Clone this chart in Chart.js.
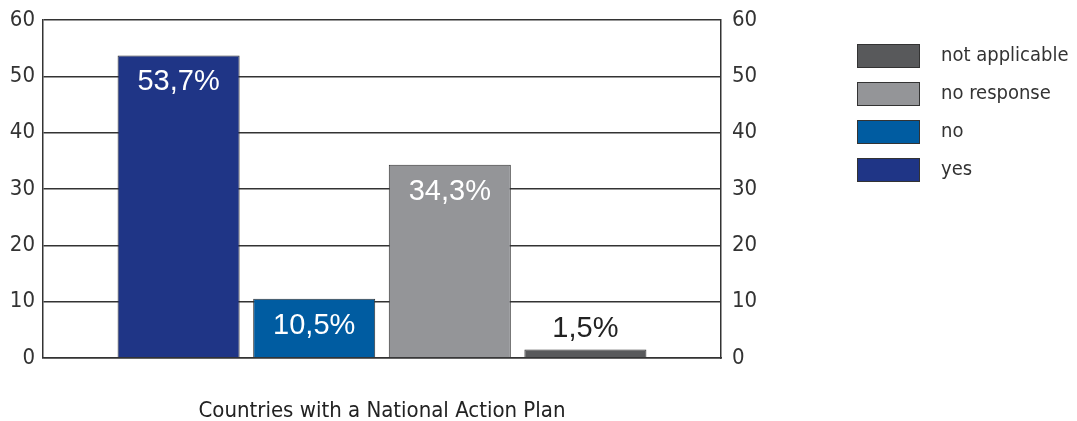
<!DOCTYPE html>
<html>
<head>
<meta charset="utf-8">
<script src="https://cdn.jsdelivr.net/npm/chart.js@4/dist/chart.umd.min.js"></script>
<style>
    html, body { margin: 0; padding: 0; background: #fff; }
    #wrap { width: 1077px; height: 421px; position: relative; }
</style>
</head>
<body>
<div id="wrap"><canvas id="chart"></canvas></div>
<script>
const categories = ['Countries with a National Action Plan'];
const seriesNames = ['yes', 'no', 'no response', 'not applicable'];
const seriesValues = [53.7, 10.5, 34.3, 1.5];
const seriesColors = ['#1f3586', '#005ca1', '#949598', '#58595b'];
const yTicks = [0, 10, 20, 30, 40, 50, 60];

const narrow = "'Liberation Sans Narrow', 'DejaVu Sans Condensed', sans-serif";
const plain = "'Liberation Sans', Arial, sans-serif";

// value labels: white inside the bar, dark above it if the bar is too short
const valueLabels = {
    id: 'valueLabels',
    afterDatasetsDraw(chart) {
        const ctx = chart.ctx;
        ctx.save();
        ctx.font = '29px ' + plain;
        ctx.textAlign = 'center';
        ctx.textBaseline = 'middle';
        chart.data.datasets.forEach((ds, i) => {
            const bar = chart.getDatasetMeta(i).data[0];
            const txt = ds.data[0].toFixed(1).replace('.', ',') + '%';
            const h = bar.base - bar.y;
            if (h > 40) {
                ctx.fillStyle = '#fff';
                ctx.fillText(txt, bar.x, bar.y + 27);
            } else {
                ctx.fillStyle = '#222';
                ctx.fillText(txt, bar.x, bar.y - 21);
            }
        });
        ctx.restore();
    }
};

// legend on the right, reversed order
const sideLegend = {
    id: 'sideLegend',
    afterDraw(chart) {
        const ctx = chart.ctx;
        ctx.save();
        ctx.font = '20px ' + narrow;
        ctx.textBaseline = 'middle';
        const items = chart.data.datasets.slice().reverse();
        items.forEach((ds, k) => {
            const top = 44 + k * 38;
            ctx.fillStyle = ds.backgroundColor;
            ctx.fillRect(857, top, 63, 24);
            ctx.strokeStyle = '#333';
            ctx.lineWidth = 1;
            ctx.strokeRect(857.5, top + 0.5, 62, 23);
            ctx.fillStyle = '#333';
            ctx.fillText(ds.label, 941, top + 12);
        });
        ctx.restore();
    }
};

const tickFont = { family: narrow, size: 22 };

function fitY(width) {
    return function (scale) {
        scale.width = width;
        scale.paddingTop = 0;
        scale.paddingBottom = 0;
    };
}

new Chart(document.getElementById('chart'), {
    type: 'bar',
    data: {
        labels: categories,
        datasets: seriesNames.map((name, i) => ({
            label: name,
            data: [seriesValues[i]],
            backgroundColor: seriesColors[i],
            borderColor: '#333',
            borderWidth: 1,
            yAxisID: 'y'
        }))
    },
    options: {
        responsive: true,
        maintainAspectRatio: false,
        animation: false,
        categoryPercentage: 0.8,
        barPercentage: 0.9,
        layout: { padding: { top: 20, right: 316, left: 0, bottom: 0 } },
        plugins: {
            legend: { display: false },
            tooltip: { enabled: false }
        },
        scales: {
            x: {
                grid: { display: false, drawTicks: false },
                border: { color: '#333', width: 1.5 },
                ticks: { display: false },
                title: {
                    display: true,
                    text: categories[0],
                    color: '#222',
                    font: { family: narrow, size: 22 },
                    padding: { top: 0, bottom: -3 }
                },
                afterFit(scale) { scale.height = 63; }
            },
            y: {
                position: 'left',
                min: 0, max: 60,
                afterBuildTicks(scale) { scale.ticks = yTicks.map(v => ({ value: v })); },
                grid: { color: '#333', lineWidth: 1.5, drawTicks: false },
                border: { color: '#333', width: 1.5 },
                ticks: { color: '#333', font: tickFont, padding: 8 },
                afterFit: fitY(43)
            },
            y2: {
                position: 'right',
                min: 0, max: 60,
                afterBuildTicks(scale) { scale.ticks = yTicks.map(v => ({ value: v })); },
                grid: { display: false, drawTicks: false },
                border: { color: '#333', width: 1.5 },
                ticks: { color: '#333', font: tickFont, padding: 11 },
                afterFit: fitY(40)
            }
        }
    },
    plugins: [valueLabels, sideLegend]
});
</script>
</body>
</html>
